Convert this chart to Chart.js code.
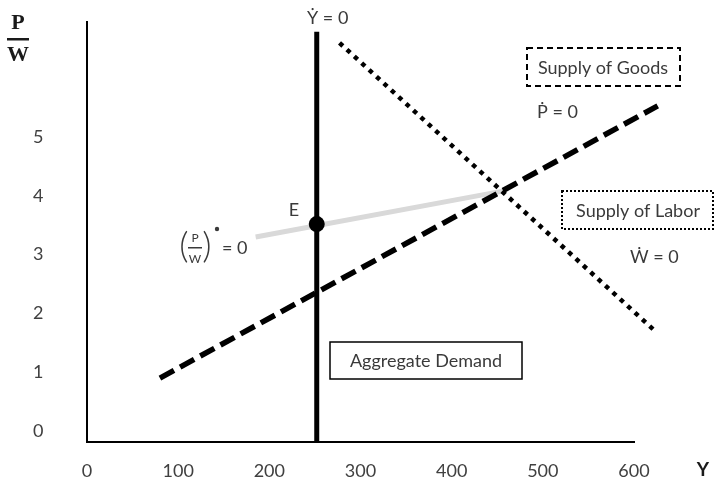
<!DOCTYPE html>
<html>
<head>
<meta charset="utf-8">
<title>AD / supply of goods / supply of labor</title>
<script src="https://cdn.jsdelivr.net/npm/chart.js@4.4.1/dist/chart.umd.min.js"></script>
<style>
    html, body { margin: 0; padding: 0; background: #fff; }
    #wrap { width: 715px; height: 481px; position: relative; }
</style>
</head>
<body>
<div id="wrap"><canvas id="diagram"></canvas></div>
<script>
// tick labels
const xTicks = [0, 100, 200, 300, 400, 500, 600];
const yTicks = [0, 1, 2, 3, 4, 5];

// Ẏ = 0 (aggregate demand), vertical
const demandX = [252, 252];
const demandY = [-0.19, 6.79];

// Ẇ = 0 (supply of labor), dotted
const laborX = [277, 621];
const laborY = [6.60, 1.73];

// Ṗ = 0 (supply of goods), dashed
const goodsX = [80, 626];
const goodsY = [0.90, 5.53];

// (P/W)˙ = 0, grey
const ratioX = [185, 456];
const ratioY = [3.30, 4.08];

// equilibrium E
const eqX = [252];
const eqY = [3.52];

const FONT = 'Lato, "Open Sans", sans-serif';
const TEXT = '#3a3a3a';

function pts(xs, ys) {
    return xs.map((x, i) => ({ x: x, y: ys[i] }));
}

// text, boxes and the P/W fraction
const notes = {
    id: 'notes',
    afterDatasetsDraw(chart) {
        const c = chart.ctx;
        c.save();
        c.fillStyle = TEXT;
        c.textBaseline = 'middle';

        c.font = '18px ' + FONT;
        c.textAlign = 'left';
        c.fillText('Ẏ = 0', 307, 18);
        c.fillText('Ṗ = 0', 537, 112);
        c.fillText('Ẇ = 0', 630, 257);
        c.textAlign = 'center';
        c.fillText('E', 294, 210);

        // boxed labels
        c.strokeStyle = '#000';
        c.lineWidth = 2;
        c.setLineDash([6, 4]);
        c.strokeRect(527, 48, 153, 38);
        c.setLineDash([2, 2]);
        c.strokeRect(562, 191, 151, 38);
        c.setLineDash([]);
        c.lineWidth = 1.5;
        c.strokeRect(330, 342, 192, 37);
        c.fillText('Supply of Goods', 603, 68);
        c.fillText('Supply of Labor', 638, 211);
        c.fillText('Aggregate Demand', 426, 361);

        // (P/W)˙ = 0
        c.font = '300 36px ' + FONT;
        c.fillText('(', 184, 246);
        c.fillText(')', 207, 246);
        c.font = '12px ' + FONT;
        c.fillText('P', 195, 238);
        c.fillText('W', 195, 259);
        c.fillRect(188, 247, 14, 1.5);
        c.beginPath();
        c.arc(217, 229, 2.2, 0, Math.PI * 2);
        c.fill();
        c.font = '18px ' + FONT;
        c.textAlign = 'left';
        c.fillText('= 0', 222, 248);

        // axis titles
        c.fillStyle = '#1a1a1a';
        c.textAlign = 'center';
        c.font = 'bold 22px "Liberation Serif", serif';
        c.fillText('P', 18, 23);
        c.fillText('W', 18, 55);
        c.fillRect(7, 38, 22, 2.5);
        c.font = 'bold 19px ' + FONT;
        c.fillText('Y', 703, 470);
        c.restore();
    }
};

new Chart(document.getElementById('diagram'), {
    type: 'scatter',
    data: {
        datasets: [
            {
                label: 'E',
                data: pts(eqX, eqY),
                pointRadius: 8,
                pointBackgroundColor: '#000',
                pointBorderWidth: 0
            },
            {
                label: 'Aggregate Demand',
                data: pts(demandX, demandY),
                showLine: true,
                borderColor: '#000',
                borderWidth: 5,
                pointRadius: 0
            },
            {
                label: 'Supply of Goods',
                data: pts(goodsX, goodsY),
                showLine: true,
                borderColor: '#000',
                borderWidth: 5.5,
                borderDash: [16, 7],
                pointRadius: 0
            },
            {
                label: 'Supply of Labor',
                data: pts(laborX, laborY),
                showLine: true,
                borderColor: '#000',
                borderWidth: 4.5,
                borderDash: [4.5, 5.5],
                pointRadius: 0
            },
            {
                label: '(P/W) = 0',
                data: pts(ratioX, ratioY),
                showLine: true,
                borderColor: '#d9d9d9',
                borderWidth: 5,
                pointRadius: 0
            }
        ]
    },
    options: {
        responsive: true,
        maintainAspectRatio: false,
        animation: false,
        clip: false,
        layout: { padding: { top: 22, right: 81, left: 33, bottom: 0 } },
        plugins: {
            legend: { display: false },
            tooltip: { enabled: false }
        },
        scales: {
            x: {
                type: 'linear',
                min: 0,
                max: 600,
                afterFit: (s) => { s.height = 39; },
                afterBuildTicks: (s) => { s.ticks = xTicks.map(v => ({ value: v })); },
                grid: { display: false, drawTicks: false },
                border: { display: true, color: '#000', width: 2 },
                ticks: { padding: 18, color: '#404040', font: { family: FONT, size: 18 } }
            },
            y: {
                type: 'linear',
                min: -0.187,
                max: 6.956,
                afterFit: (s) => { s.width = 54; },
                afterBuildTicks: (s) => { s.ticks = yTicks.map(v => ({ value: v })); },
                grid: { display: false, drawTicks: false },
                border: { display: true, color: '#000', width: 2 },
                ticks: { padding: 4, crossAlign: 'far', color: '#404040', font: { family: FONT, size: 18 } }
            }
        }
    },
    plugins: [notes]
});
</script>
</body>
</html>
